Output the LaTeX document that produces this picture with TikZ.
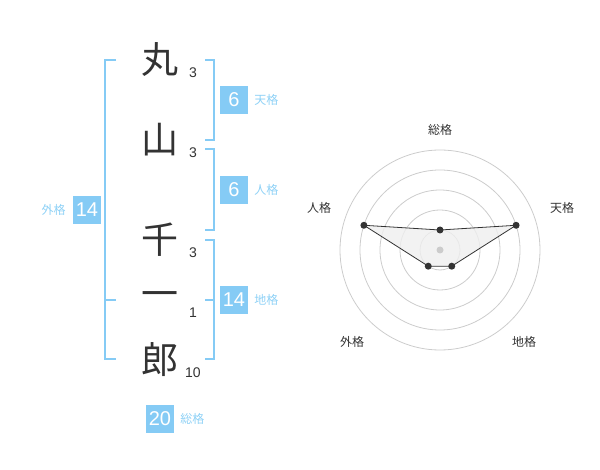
\documentclass[tikz,border=0pt]{standalone}
\usepackage{fontspec}
\usetikzlibrary{positioning}
\setmainfont{Liberation Sans}
\newfontfamily\jfont{Noto Sans CJK JP}
\definecolor{kanjigray}{HTML}{333333}
\definecolor{kakublue}{HTML}{85CBF5}
\definecolor{labelblue}{HTML}{8ED1F6}
\definecolor{ringgray}{HTML}{CCCCCC}
\definecolor{areagray}{HTML}{EFEFEF}
\tikzset{
  kanji/.style={font=\jfont\fontsize{37}{37}\selectfont, text=kanjigray, inner sep=0pt},
  strokes/.style={font=\fontsize{14}{14}\selectfont, text=kanjigray, inner sep=0pt},
  kakubox/.style={fill=kakublue, text=white, font=\fontsize{20}{20}\selectfont, minimum width=28pt, minimum height=28pt, inner sep=0pt},
  kakulabel/.style={font=\jfont\fontsize{12}{12}\selectfont, text=labelblue, inner sep=0pt},
  bracket/.style={draw=kakublue, line width=2pt},
  ring/.style={draw=ringgray, line width=0.8pt},
  axislabel/.style={font=\jfont\fontsize{12}{12}\selectfont, text=kanjigray, inner sep=0pt},
  dot/.style={circle, fill=kanjigray, inner sep=0pt, minimum size=7pt}
}
\begin{document}
\begin{tikzpicture}[x=1pt,y=-1pt]
\useasboundingbox (0,0) rectangle (600,470);
\node[kanji] (maru) at (160,60) {丸};
\node[kanji] (yama) at (160,140) {山};
\node[kanji] (sen) at (160,240) {千};
\node[kanji] (ichi) at (160,300) {一};
\node[kanji] (ro) at (160,360) {郎};
\node[strokes] (maruN) at (193,73) {3};
\node[strokes] (yamaN) at (193,153) {3};
\node[strokes] (senN) at (193,253) {3};
\node[strokes] (ichiN) at (193,313) {1};
\node[strokes] (roN) at (193,373) {10};
\draw[bracket] (116,60) -- (105,60) -- (105,359) -- (116,359);
\draw[bracket] (105,300) -- (116,300);
\draw[bracket] (205,60) -- (214,60) -- (214,140) -- (205,140);
\draw[bracket] (205,149) -- (214,149) -- (214,230) -- (205,230);
\draw[bracket] (205,240) -- (214,240) -- (214,359) -- (205,359);
\draw[bracket] (205,300) -- (214,300);
\node[kakubox] (tenB) at (234,100) {6};
\node[kakulabel, right=6pt of tenB] (tenL) {天格};
\node[kakubox] (jinB) at (234,190) {6};
\node[kakulabel, right=6pt of jinB] (jinL) {人格};
\node[kakubox] (chiB) at (234,300) {14};
\node[kakulabel, right=6pt of chiB] (chiL) {地格};
\node[kakubox] (gaiB) at (87,210) {14};
\node[kakulabel, left=7pt of gaiB] (gaiL) {外格};
\node[kakubox] (soB) at (160,419) {20};
\node[kakulabel, right=6pt of soB] (soL) {総格};
\begin{scope}[shift={(440,250)}, y=1pt]
\foreach \r in {20,40,60,80,100} \draw[ring] (0,0) circle[radius=\r];
\coordinate (so) at (90:20);
\coordinate (ten) at (18:80);
\coordinate (chi) at (-54:20);
\coordinate (gai) at (-126:20);
\coordinate (jin) at (162:80);
\filldraw[fill=areagray, fill opacity=0.8, draw=kanjigray, line width=0.8pt] (so) -- (ten) -- (chi) -- (gai) -- (jin) -- cycle;
\fill[ringgray] (0,0) circle[radius=3.5];
\foreach \p in {so,ten,chi,gai,jin} \node[dot] at (\p) {};
\node[axislabel] (soA) at (0,120) {総格};
\node[axislabel] (tenA) at (122,42) {天格};
\node[axislabel] (chiA) at (84,-92) {地格};
\node[axislabel] (gaiA) at (-88,-92) {外格};
\node[axislabel] (jinA) at (-121,42) {人格};
\end{scope}
\end{tikzpicture}
\end{document}
